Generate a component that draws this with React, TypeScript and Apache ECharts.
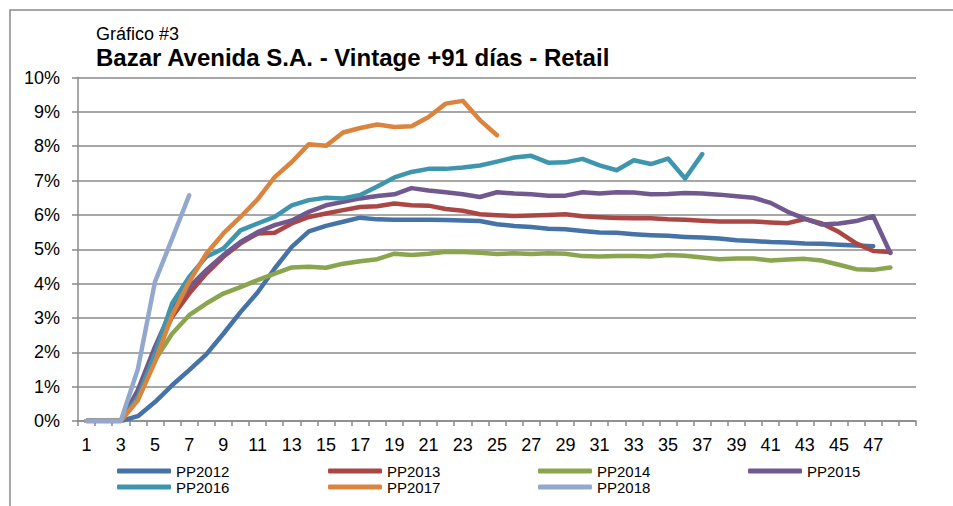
import React, { useEffect, useRef } from "react";
import * as echarts from "echarts";

const categories: string[] = [];
for (let i = 1; i <= 48; i++) categories.push(String(i));
categories.push("");

const seriesNames = ["PP2012", "PP2013", "PP2014", "PP2015", "PP2016", "PP2017", "PP2018"];

const pp2012 = [0, 0, 0, 0.14, 0.55, 1.04, 1.48, 1.94, 2.54, 3.17, 3.74, 4.44, 5.07, 5.52, 5.68, 5.8, 5.92, 5.87, 5.86, 5.86, 5.86, 5.85, 5.84, 5.82, 5.73, 5.68, 5.65, 5.6, 5.58, 5.53, 5.49, 5.48, 5.44, 5.41, 5.39, 5.36, 5.34, 5.31, 5.26, 5.24, 5.21, 5.2, 5.17, 5.16, 5.13, 5.11, 5.09];
const pp2013 = [0, 0, 0, 0.8, 1.96, 3.03, 3.71, 4.29, 4.78, 5.17, 5.46, 5.48, 5.75, 5.94, 6.04, 6.14, 6.23, 6.25, 6.33, 6.28, 6.27, 6.17, 6.12, 6.02, 5.99, 5.97, 5.98, 6.0, 6.02, 5.96, 5.93, 5.91, 5.9, 5.9, 5.87, 5.86, 5.83, 5.81, 5.81, 5.81, 5.78, 5.76, 5.88, 5.75, 5.5, 5.17, 4.95, 4.92];
const pp2014 = [0, 0, 0, 0.8, 1.77, 2.54, 3.08, 3.42, 3.71, 3.9, 4.1, 4.29, 4.47, 4.49, 4.46, 4.58, 4.65, 4.71, 4.87, 4.83, 4.87, 4.93, 4.92, 4.9, 4.86, 4.88, 4.86, 4.88, 4.87, 4.8, 4.79, 4.8, 4.8, 4.79, 4.83, 4.81, 4.76, 4.71, 4.73, 4.73, 4.67, 4.7, 4.72, 4.67, 4.55, 4.42, 4.4, 4.47];
const pp2015 = [0, 0, 0, 0.9, 2.16, 3.27, 3.9, 4.39, 4.83, 5.21, 5.5, 5.7, 5.84, 6.09, 6.28, 6.38, 6.48, 6.55, 6.6, 6.78, 6.71, 6.66, 6.6, 6.52, 6.66, 6.62, 6.6, 6.56, 6.56, 6.66, 6.62, 6.66, 6.65, 6.6, 6.61, 6.64, 6.62, 6.59, 6.54, 6.5, 6.35, 6.09, 5.89, 5.72, 5.75, 5.82, 5.96, 4.89];
const pp2016 = [0, 0, 0, 0.7, 1.96, 3.42, 4.19, 4.78, 5.02, 5.55, 5.75, 5.94, 6.28, 6.43, 6.5, 6.48, 6.58, 6.83, 7.09, 7.25, 7.34, 7.34, 7.38, 7.44, 7.55, 7.67, 7.72, 7.52, 7.53, 7.63, 7.44, 7.3, 7.59, 7.48, 7.64, 7.06, 7.77];
const pp2017 = [0, 0, 0, 0.6, 1.72, 3.08, 4.05, 4.87, 5.46, 5.94, 6.45, 7.1, 7.54, 8.06, 8.01, 8.4, 8.53, 8.63, 8.56, 8.58, 8.85, 9.24, 9.32, 8.76, 8.32];
const pp2018 = [0, 0, 0, 1.51, 4.05, 5.3, 6.57];

const seriesData = [pp2012, pp2013, pp2014, pp2015, pp2016, pp2017, pp2018];
const colors = ["#4572A7", "#AA4643", "#89A54E", "#71588F", "#3D96AE", "#DB843D", "#92A8CD"];

const FONT = 'Arial, "Liberation Sans", sans-serif';

export default function App() {
  const ref = useRef<HTMLDivElement>(null);
  useEffect(() => {
    if (!ref.current) return;
    const chart = echarts.init(ref.current, undefined, { renderer: "svg" });
    const legendLefts = [117, 328, 538, 748];
    const legendTops = [463.5, 479.5];
    const legends = seriesNames.map((name, i) => ({
      data: [name],
      left: legendLefts[i % 4],
      top: legendTops[Math.floor(i / 4)],
      icon: "roundRect",
      itemWidth: 54,
      itemHeight: 5,
      padding: 0,
      selectedMode: false,
      textStyle: { fontFamily: FONT, fontSize: 15, color: "#000", lineHeight: 15 },
    }));
    chart.setOption({
      animation: false,
      backgroundColor: "#fff",
      color: colors,
      title: [
        {
          text: "Gráfico #3",
          left: 96,
          top: 25,
          padding: 0,
          textStyle: { fontFamily: FONT, fontSize: 18, fontWeight: "normal", color: "#000" },
        },
        {
          text: "Bazar Avenida S.A. - Vintage +91 días - Retail",
          left: 96,
          top: 45,
          padding: 0,
          textStyle: { fontFamily: FONT, fontSize: 24, fontWeight: "bold", color: "#000" },
        },
      ],
      graphic: [
        {
          type: "rect",
          shape: { x: 10, y: 10, width: 1200, height: 1000 },
          style: { fill: "none", stroke: "#8a8a8a", lineWidth: 1.5 },
          silent: true,
        },
      ],
      legend: legends,
      grid: { left: 78, right: 37, top: 77.5, bottom: 85, containLabel: false },
      xAxis: {
        type: "category",
        data: categories,
        boundaryGap: true,
        axisLine: { lineStyle: { color: "#8a8a8a", width: 1.5 } },
        axisTick: { show: true, interval: 0, length: 5, lineStyle: { color: "#8a8a8a", width: 1.5 } },
        axisLabel: { interval: 1, fontFamily: FONT, fontSize: 18, color: "#000", margin: 15 },
        splitLine: { show: false },
      },
      yAxis: {
        type: "value",
        min: 0,
        max: 10,
        interval: 1,
        axisLine: { show: true, lineStyle: { color: "#8a8a8a", width: 1.5 } },
        axisTick: { show: true, length: 6, lineStyle: { color: "#8a8a8a", width: 1.5 } },
        axisLabel: { formatter: "{value}%", fontFamily: FONT, fontSize: 18, color: "#000", margin: 18 },
        splitLine: { show: true, lineStyle: { color: "#8a8a8a", width: 1.5 } },
      },
      series: seriesNames.map((name, i) => ({
        name,
        type: "line",
        data: seriesData[i],
        showSymbol: false,
        symbol: "none",
        lineStyle: { width: 4.5, color: colors[i], cap: "round", join: "round" },
        itemStyle: { color: colors[i] },
      })),
    });
    return () => chart.dispose();
  }, []);
  return (
    <div
      ref={ref}
      style={{ position: "fixed", left: 0, top: 0, width: 953, height: 506 }}
    />
  );
}
